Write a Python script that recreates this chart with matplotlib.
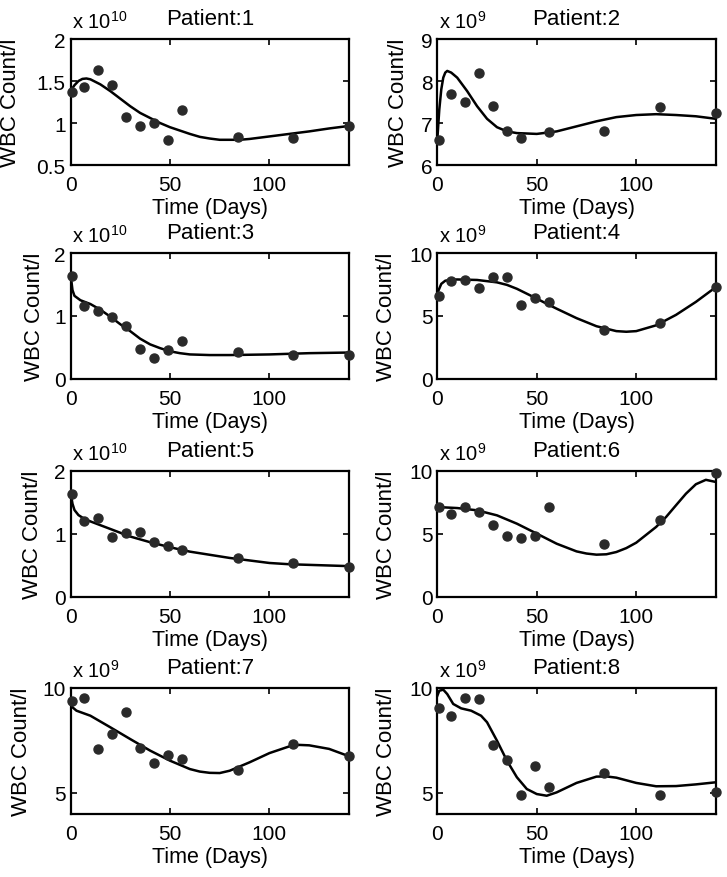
import matplotlib
matplotlib.use('Agg')
import matplotlib.pyplot as plt

plt.rcParams['font.family'] = ['Liberation Sans', 'DejaVu Sans']
plt.rcParams['mathtext.fontset'] = 'custom'
plt.rcParams['mathtext.rm'] = 'Liberation Sans'

# sampling days
days = [1, 7, 14, 21, 28, 35, 42, 49, 56, 84, 112, 140]
days_p2 = [1, 7, 14, 21, 28, 35, 42, 56, 84, 112, 140]

# observed WBC counts (in units of the axis multiplier)
obs1 = [1.37, 1.43, 1.63, 1.45, 1.07, 0.97, 1.0, 0.8, 1.16, 0.83, 0.82, 0.96]
obs2 = [6.6, 7.7, 7.5, 8.18, 7.4, 6.82, 6.64, 6.78, 6.82, 7.38, 7.24]
obs3 = [1.63, 1.16, 1.08, 0.99, 0.84, 0.48, 0.33, 0.46, 0.6, 0.43, 0.38, 0.38]
obs4 = [6.6, 7.75, 7.88, 7.26, 8.09, 8.09, 5.84, 6.41, 6.15, 3.9, 4.44, 7.34]
obs5 = [1.64, 1.21, 1.26, 0.96, 1.02, 1.03, 0.87, 0.81, 0.75, 0.62, 0.54, 0.48]
obs6 = [7.14, 6.56, 7.14, 6.75, 5.69, 4.84, 4.71, 4.84, 7.14, 4.18, 6.08, 9.87]
obs7 = [9.37, 9.51, 7.10, 7.8, 8.87, 7.13, 6.41, 6.81, 6.62, 6.1, 7.32, 6.78]
obs8 = [9.03, 8.65, 9.51, 9.48, 7.3, 6.59, 4.9, 6.27, 5.27, 5.94, 4.9, 5.06]

# model fits
fit1_t = [0, 2, 4, 6, 8, 10, 15, 20, 25, 30, 35, 40, 45, 50, 55, 60, 65, 70, 75, 80, 85, 90,
          100, 110, 120, 130, 140]
fit1_y = [1.38, 1.45, 1.50, 1.525, 1.53, 1.52, 1.46, 1.38, 1.29, 1.2, 1.12, 1.06, 1.0, 0.95,
          0.91, 0.87, 0.835, 0.815, 0.80, 0.80, 0.80, 0.81, 0.84, 0.87, 0.90, 0.935, 0.965]
fit2_t = [0, 1, 2, 3, 4, 5, 7, 10, 15, 20, 25, 30, 35, 40, 50, 60, 70, 80, 90, 100, 110, 120, 130, 140]
fit2_y = [6.6, 7.32, 7.8, 8.08, 8.2, 8.24, 8.2, 8.08, 7.76, 7.4, 7.1, 6.9, 6.8, 6.76, 6.74, 6.8,
          6.92, 7.04, 7.14, 7.19, 7.21, 7.19, 7.16, 7.1]
fit3_t = [0, 1, 2, 5, 10, 15, 20, 25, 30, 35, 40, 45, 50, 55, 60, 70, 80, 100, 120, 140]
fit3_y = [1.67, 1.41, 1.32, 1.25, 1.19, 1.10, 0.99, 0.87, 0.76, 0.64, 0.55, 0.49, 0.44, 0.41,
          0.39, 0.38, 0.38, 0.39, 0.41, 0.42]
fit4_t = [0, 2, 4, 7, 10, 20, 30, 35, 40, 45, 50, 55, 60, 70, 80, 90, 95, 100, 110, 120, 130, 140]
fit4_y = [6.8, 7.55, 7.8, 7.88, 7.9, 7.86, 7.67, 7.47, 7.16, 6.77, 6.38, 5.97, 5.58, 4.83,
          4.19, 3.8, 3.75, 3.8, 4.26, 5.09, 6.12, 7.29]
fit5_t = [0, 1, 2, 4, 7, 10, 20, 30, 40, 50, 60, 70, 80, 90, 100, 110, 120, 130, 140]
fit5_y = [1.67, 1.48, 1.38, 1.30, 1.24, 1.20, 1.08, 0.96, 0.87, 0.79, 0.72, 0.67, 0.62,
          0.58, 0.54, 0.52, 0.51, 0.50, 0.49]
fit6_t = [0, 10, 20, 30, 40, 50, 60, 70, 75, 80, 85, 90, 95, 100, 110, 115, 120, 125, 130,
          135, 140]
fit6_y = [7.14, 7.06, 6.88, 6.48, 5.82, 5.03, 4.23, 3.62, 3.45, 3.36, 3.39, 3.57, 3.88,
          4.31, 5.56, 6.35, 7.28, 8.2, 8.95, 9.3, 9.13]
fit7_t = [0, 1, 3, 10, 20, 30, 40, 50, 60, 65, 70, 75, 80, 90, 100, 110, 115, 120, 130, 140]
fit7_y = [9.35, 9.08, 8.92, 8.68, 8.13, 7.57, 7.02, 6.54, 6.14, 6.02, 5.96, 5.95, 6.06, 6.46,
          6.9, 7.22, 7.29, 7.27, 7.10, 6.75]
fit8_t = [0, 1, 3, 5, 8, 12, 17, 22, 25, 30, 35, 40, 45, 50, 55, 60, 70, 80, 85, 90, 100,
          110, 120, 130, 140]
fit8_y = [9.63, 9.87, 9.92, 9.71, 9.24, 9.03, 8.92, 8.68, 8.37, 7.49, 6.54, 5.75, 5.19,
          4.95, 4.87, 5.03, 5.48, 5.78, 5.79, 5.73, 5.48, 5.32, 5.33, 5.41, 5.51]

obs_t = [days, days_p2, days, days, days, days, days, days]
obs = [obs1, obs2, obs3, obs4, obs5, obs6, obs7, obs8]
fit_t = [fit1_t, fit2_t, fit3_t, fit4_t, fit5_t, fit6_t, fit7_t, fit8_t]
fit_y = [fit1_y, fit2_y, fit3_y, fit4_y, fit5_y, fit6_y, fit7_y, fit8_y]
exponents = [10, 9, 10, 9, 10, 9, 9, 9]
ylims = [(0.5, 2), (6, 9), (0, 2), (0, 10), (0, 2), (0, 10), (4, 10), (4, 10)]
yticks = [[0.5, 1, 1.5, 2], [6, 7, 8, 9], [0, 1, 2], [0, 5, 10],
          [0, 1, 2], [0, 5, 10], [5, 10], [5, 10]]
ytick_labels = [['0.5', '1', '1.5', '2'], ['6', '7', '8', '9'], ['0', '1', '2'], ['0', '5', '10'],
                ['0', '1', '2'], ['0', '5', '10'], ['5', '10'], ['5', '10']]
ylabel_x = [-0.179, -0.10, -0.092, -0.143, -0.099, -0.143, -0.138, -0.143]

fig = plt.figure(figsize=(7.27, 8.78), dpi=100)
W, H = 727.0, 878.0
lefts = [70.5, 437.3]
width = 278.5
tops = [40, 254, 472, 689]
height = 126

for i in range(8):
    r, c = i // 2, i % 2
    ax = fig.add_axes([lefts[c] / W, 1 - (tops[r] + height) / H, width / W, height / H])
    ax.plot(fit_t[i], fit_y[i], color='black', lw=1.8, zorder=2)
    ax.plot(obs_t[i], obs[i], 'o', color='#2a2a2a', ms=6.5, zorder=3, clip_on=False)
    ax.set_xlim(0, 140)
    ax.set_ylim(*ylims[i])
    ax.set_xticks([0, 50, 100])
    ax.set_yticks(yticks[i])
    ax.set_yticklabels(ytick_labels[i])
    ax.tick_params(direction='in', top=True, right=True, length=4, width=1.2,
                   labelsize=15, colors='black')
    ax.tick_params(axis='y', pad=3.5)
    ax.tick_params(axis='x', pad=7)
    for s in ax.spines.values():
        s.set_linewidth(1.6)
    ax.set_title('Patient:%d' % (i + 1), fontsize=16, pad=10.5)
    ax.set_xlabel('Time (Days)', fontsize=15.5, labelpad=2.5)
    ax.set_ylabel('WBC Count/l', fontsize=16)
    ax.yaxis.set_label_coords(ylabel_x[i], 0.5)
    ax.text(0.005, 1.085, r'x 10$^{\mathregular{%d}}$' % exponents[i], transform=ax.transAxes,
            fontsize=14.5, va='baseline', ha='left')

fig.savefig('out.png', dpi=100)
